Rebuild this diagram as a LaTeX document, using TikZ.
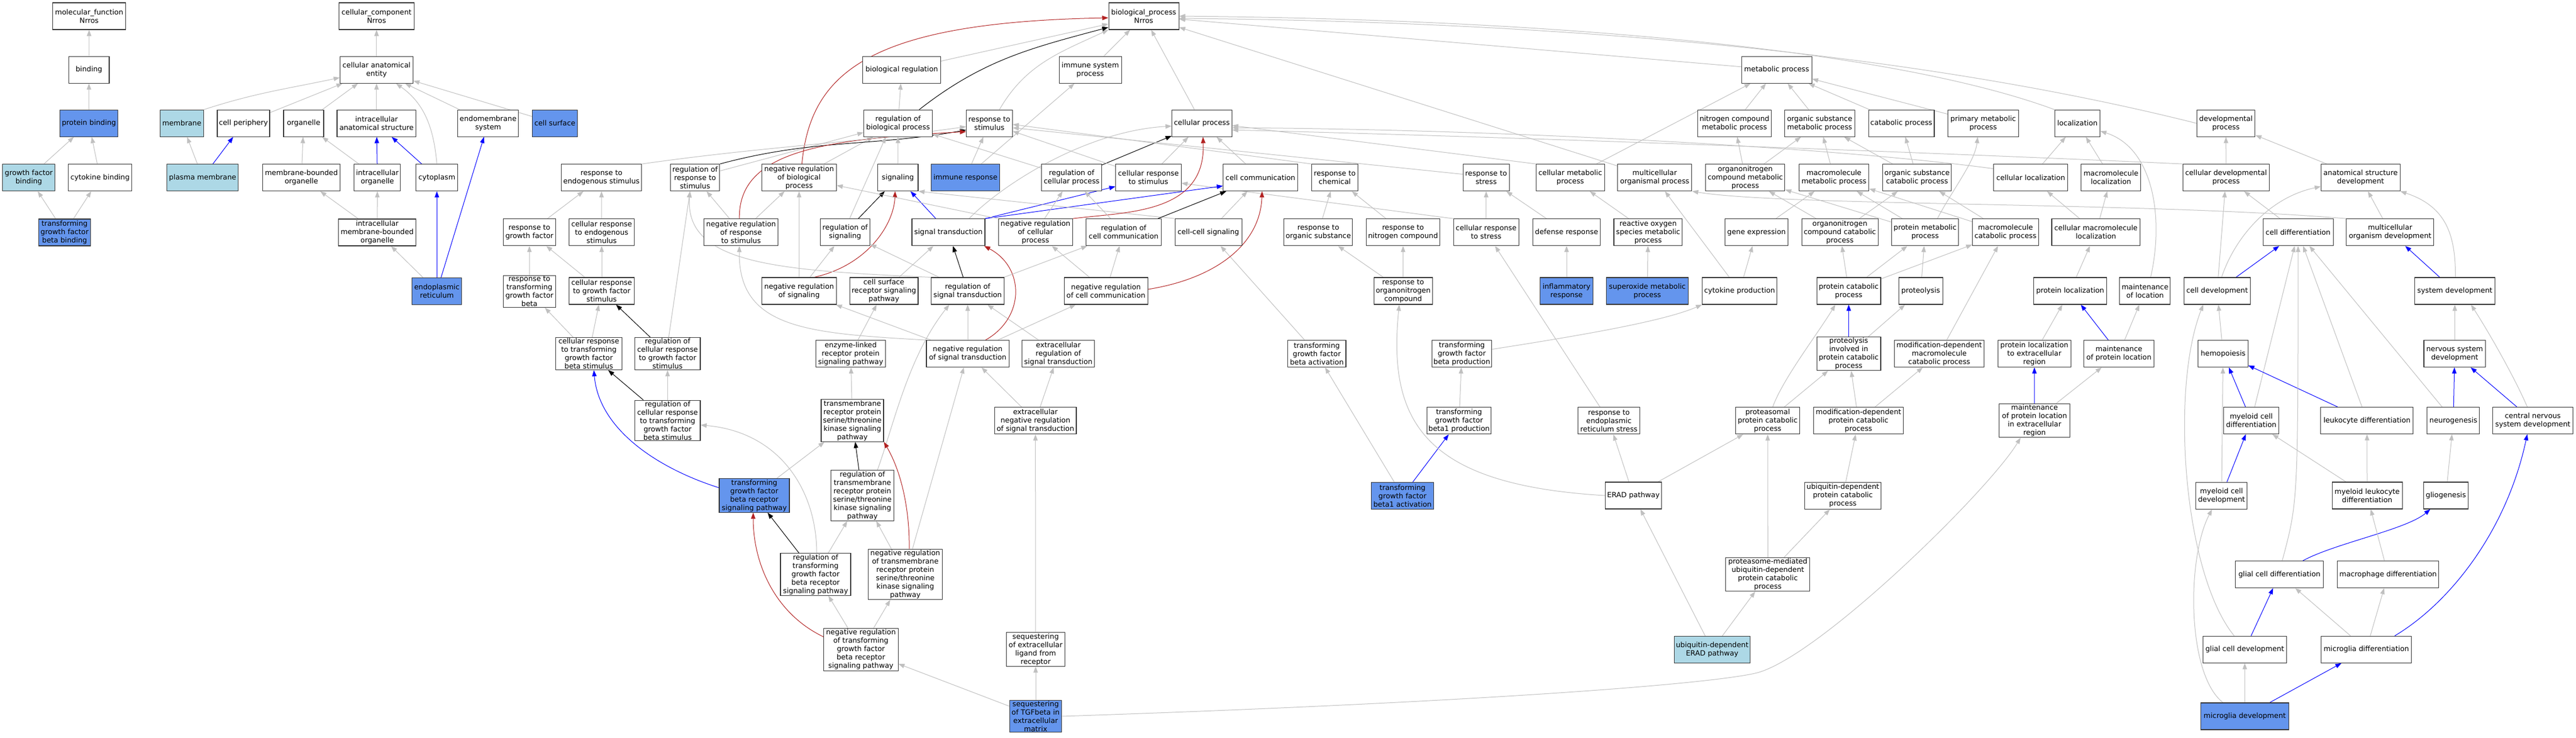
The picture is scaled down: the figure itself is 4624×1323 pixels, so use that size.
\documentclass[tikz,border=0pt]{standalone}
\usepackage{fontspec}
\setmainfont{DejaVu Sans}
\usetikzlibrary{arrows.meta,backgrounds}
\definecolor{egray}{RGB}{192,192,192}
\definecolor{nblue}{RGB}{100,149,237}
\definecolor{nlight}{RGB}{173,216,230}
\definecolor{eredc}{RGB}{178,34,34}
\definecolor{nborder}{RGB}{51,51,51}
\begin{document}
\begin{tikzpicture}[x=1pt,y=-1pt,
  box/.style={draw=nborder,line width=1.05pt,fill=white,align=center,inner xsep=2pt,inner ysep=1.5pt,minimum height=48pt,font=\fontsize{12.8}{15}\selectfont,text=black},
  bl/.style={box,fill=nblue},
  lb/.style={box,fill=nlight},
  eg/.style={draw=egray,line width=1pt,-{Triangle[length=11pt,width=8pt]}},
  ek/.style={eg,draw=black},
  ered/.style={eg,draw=eredc},
  eb/.style={eg,draw=blue}]
\useasboundingbox (0,0) rectangle (4624,1323);
% ---------------- nodes ----------------
% row 0
\node[box,minimum width=131pt] (mf) at (160,29) {molecular\_function\\Nrros};
\node[box,minimum width=134.8pt] (cc) at (675.9,29) {cellular\_component\\Nrros};
\node[box,minimum width=126pt] (bp) at (2053,29) {biological\_process\\Nrros};
% row 1
\node[box,minimum width=72.6pt] (bind) at (159.7,125.2) {binding};
\node[box,minimum width=131pt] (cae) at (675.9,125.2) {cellular anatomical\\entity};
\node[box,minimum width=139.3pt] (breg) at (1618.6,125.2) {biological regulation};
\node[box,minimum width=112pt] (isp) at (1957,125.2) {immune system\\process};
\node[box,minimum width=125.8pt] (mp) at (3189.2,125.2) {metabolic process};
% row 2
\node[bl,minimum width=104.5pt] (pb) at (159.7,221.2) {protein binding};
\node[lb,minimum width=77.6pt] (memb) at (326.4,221.2) {membrane};
\node[box,minimum width=94pt] (cper) at (437,221.2) {cell periphery};
\node[box,minimum width=72pt] (org) at (545,221.2) {organelle};
\node[box,minimum width=141.8pt] (ias) at (675.9,221.2) {intracellular\\anatomical structure};
\node[box,minimum width=109pt] (ems) at (876.2,221.2) {endomembrane\\system};
\node[bl,minimum width=81pt] (csurf) at (996,221.2) {cell surface};
\node[box,minimum width=123pt] (rbp) at (1612,221.2) {regulation of\\biological process};
\node[box,minimum width=82.6pt] (rs) at (1776,221.2) {response to\\stimulus};
\node[box,minimum width=107.5pt] (cp) at (2157.4,221.2) {cellular process};
\node[box,minimum width=131.2pt] (ncmp) at (3113.4,221.2) {nitrogen compound\\metabolic process};
\node[box,minimum width=125.9pt] (osmp) at (3266.3,221.2) {organic substance\\metabolic process};
\node[box,minimum width=117.9pt] (catp) at (3413,221.2) {catabolic process};
\node[box,minimum width=126.9pt] (pmp) at (3559.9,221.2) {primary metabolic\\process};
\node[box,minimum width=81.1pt] (loc) at (3729,221.2) {localization};
\node[box,minimum width=104.6pt] (devp) at (3995.6,221.2) {developmental\\process};
% row 3
\node[lb,minimum width=93.5pt] (gfb) at (51.7,318.6) {growth factor\\binding};
\node[box,minimum width=114.4pt] (cytb) at (179.6,318.6) {cytokine binding};
\node[lb,minimum width=128.4pt] (pm) at (363.7,318.6) {plasma membrane};
\node[box,minimum width=138.8pt] (mbo) at (541,318.6) {membrane-bounded\\organelle};
\node[box,minimum width=83pt] (io) at (677.4,318.6) {intracellular\\organelle};
\node[box,minimum width=75pt] (cyto) at (784.2,318.6) {cytoplasm};
\node[box,minimum width=144.7pt] (res) at (1079.6,318.6) {response to\\endogenous stimulus};
\node[box,minimum width=88.6pt] (rrs) at (1247.6,318.6) {regulation of\\response to\\stimulus};
\node[box,minimum width=133.8pt] (nrbp) at (1434.4,318.6) {negative regulation\\of biological\\process};
\node[box,minimum width=72.6pt] (sig) at (1611.7,318.6) {signaling};
\node[bl,minimum width=123.4pt] (ir) at (1733,318.6) {immune response};
\node[box,minimum width=107.5pt] (rcp) at (1923.6,318.6) {regulation of\\cellular process};
\node[box,minimum width=117.4pt] (crs) at (2061.4,318.6) {cellular response\\to stimulus};
\node[box,minimum width=133.7pt] (cc2) at (2262.5,318.6) {cell communication};
\node[box,minimum width=83pt] (rchem) at (2395.9,318.6) {response to\\chemical};
\node[box,minimum width=82.6pt] (rstress) at (2667.7,318.6) {response to\\stress};
\node[box,minimum width=122.8pt] (cmp) at (2818.7,318.6) {cellular metabolic\\process};
\node[box,minimum width=133.3pt] (mop) at (2970.2,318.6) {multicellular\\organismal process};
\node[box,minimum width=142.2pt] (oncmp) at (3132.8,318.6) {organonitrogen\\compound metabolic\\process};
\node[box,minimum width=125.3pt] (mmp) at (3292,318.6) {macromolecule\\metabolic process};
\node[box,minimum width=123.4pt] (oscp) at (3441.2,318.6) {organic substance\\catabolic process};
\node[box,minimum width=133.3pt] (cloc) at (3645.2,318.6) {cellular localization};
\node[box,minimum width=107pt] (mloc) at (3789.2,318.6) {macromolecule\\localization};
\node[box,minimum width=155.5pt] (cdp) at (3995.8,318.6) {cellular developmental\\process};
\node[box,minimum width=141.6pt] (asd) at (4237.2,318.6) {anatomical structure\\development};
% row 4
\node[bl,minimum width=93.5pt] (tgfbb) at (116,417) {transforming\\growth factor\\beta binding};
\node[box,minimum width=139.3pt] (imbo) at (677.1,417) {intracellular\\membrane-bounded\\organelle};
\node[box,minimum width=94pt] (rgf) at (950.3,416.7) {response to\\growth factor};
\node[box,minimum width=117.4pt] (cres) at (1080,416.7) {cellular response\\to endogenous\\stimulus};
\node[box,minimum width=133.3pt] (nrrs) at (1330.2,416.7) {negative regulation\\of response\\to stimulus};
\node[box,minimum width=89pt] (rsig) at (1517,416.7) {regulation of\\signaling};
\node[box,minimum width=131pt] (st) at (1702.5,416.7) {signal transduction};
\node[box,minimum width=133pt] (nrcp) at (1858.7,416.7) {negative regulation\\of cellular\\process};
\node[box,minimum width=135pt] (rcc) at (2017,416.7) {regulation of\\cell communication};
\node[box,minimum width=120pt] (ccs) at (2169,416.7) {cell-cell signaling};
\node[box,minimum width=123pt] (ros) at (2366.3,416.7) {response to\\organic substance};
\node[box,minimum width=131.3pt] (rnc) at (2518.5,416.7) {response to\\nitrogen compound};
\node[box,minimum width=117.4pt] (crstress) at (2667.7,416.7) {cellular response\\to stress};
\node[box,minimum width=120.4pt] (defr) at (2812,416.7) {defense response};
\node[box,minimum width=122.9pt] (rosmp) at (2958.4,416.7) {reactive oxygen\\species metabolic\\process};
\node[box,minimum width=113pt] (gexp) at (3152.9,416.7) {gene expression};
\node[box,minimum width=136.8pt] (onccp) at (3302.6,416.7) {organonitrogen\\compound catabolic\\process};
\node[box,minimum width=120.4pt] (prmp) at (3455.6,416.7) {protein metabolic\\process};
\node[box,minimum width=118.4pt] (mcp) at (3599.9,416.7) {macromolecule\\catabolic process};
\node[box,minimum width=158.7pt] (cmloc) at (3762.3,416.7) {cellular macromolecule\\localization};
\node[box,minimum width=125.9pt] (cdiff) at (4125.1,416.7) {cell differentiation};
\node[box,minimum width=157pt] (mod) at (4290.3,416.7) {multicellular\\organism development};
% row 5
\node[bl,minimum width=88.9pt] (er) at (784.2,522.4) {endoplasmic\\reticulum};
\node[box,minimum width=94pt] (rtgfb) at (950.3,522.9) {response to\\transforming\\growth factor\\beta};
\node[box,minimum width=117.4pt] (crgf) at (1080,522) {cellular response\\to growth factor\\stimulus};
\node[box,minimum width=133.8pt] (nrsig) at (1434.4,522) {negative regulation\\of signaling};
\node[box,minimum width=122.8pt] (csrsp) at (1586.6,522) {cell surface\\receptor signaling\\pathway};
\node[box,minimum width=131.4pt] (rst) at (1737,522) {regulation of\\signal transduction};
\node[box,minimum width=150.3pt] (nrcc) at (1985.2,522) {negative regulation\\of cell communication};
\node[box,minimum width=105pt] (rorgn) at (2518.7,522) {response to\\organonitrogen\\compound};
\node[bl,minimum width=94.5pt] (infl) at (2812,522) {inflammatory\\response};
\node[bl,minimum width=146.8pt] (supox) at (2957,522) {superoxide metabolic\\process};
\node[box,minimum width=133.7pt] (cytp) at (3122.6,522) {cytokine production};
\node[box,minimum width=114.9pt] (pcp) at (3318.5,522) {protein catabolic\\process};
\node[box,minimum width=78.6pt] (prot) at (3447.7,522) {proteolysis};
\node[box,minimum width=130.9pt] (ploc) at (3716,522) {protein localization};
\node[box,minimum width=91pt] (mloc2) at (3850.4,522) {maintenance\\of location};
\node[box,minimum width=118.4pt] (cdev) at (3979.8,522) {cell development};
\node[box,minimum width=143.6pt] (sysdev) at (4406.5,522) {system development};
% row 6
\node[box,minimum width=118.4pt] (crtgfb) at (1057,634.6) {cellular response\\to transforming\\growth factor\\beta stimulus};
\node[box,minimum width=117.4pt] (rcrgf) at (1198.3,634.6) {regulation of\\cellular response\\to growth factor\\stimulus};
\node[box,minimum width=125.8pt] (elrp) at (1527,634.6) {enzyme-linked\\receptor protein\\signaling pathway};
\node[box,minimum width=148pt] (nrst) at (1737,634.6) {negative regulation\\of signal transduction};
\node[box,minimum width=130.4pt] (erst) at (1899.7,634.6) {extracellular\\regulation of\\signal transduction};
\node[box,minimum width=104.5pt] (tgfba) at (2363.7,634.6) {transforming\\growth factor\\beta activation};
\node[box,minimum width=107.5pt] (tgfbp) at (2624,634.6) {transforming\\growth factor\\beta production};
\node[box,minimum width=114.9pt] (pipcp) at (3318.5,634.6) {proteolysis\\involved in\\protein catabolic\\process};
\node[box,minimum width=161.2pt] (mdmcp) at (3481,634.6) {modification-dependent\\macromolecule\\catabolic process};
\node[box,minimum width=131.3pt] (plocer) at (3651.7,634.6) {protein localization\\to extracellular\\region};
\node[box,minimum width=125.6pt] (mpl) at (3803.5,634.6) {maintenance\\of protein location};
\node[box,minimum width=89.3pt] (hemo) at (3990.5,634.6) {hemopoiesis};
\node[box,minimum width=110.5pt] (nsd) at (4406.2,634.6) {nervous system\\development};
% row 7
\node[box,minimum width=117.4pt] (rcrtgfb) at (1198.3,754.5) {regulation of\\cellular response\\to transforming\\growth factor\\beta stimulus};
\node[box,minimum width=112pt] (tmrp) at (1530,754.5) {transmembrane\\receptor protein\\serine/threonine\\kinase signaling\\pathway};
\node[box,minimum width=146.7pt] (enrst) at (1858.6,754.8) {extracellular\\negative regulation\\of signal transduction};
\node[box,minimum width=115.5pt] (tgfb1p) at (2619,754.8) {transforming\\growth factor\\beta1 production};
\node[box,minimum width=111pt] (rerst) at (2888,754.8) {response to\\endoplasmic\\reticulum stress};
\node[box,minimum width=115.4pt] (ppcp) at (3173,754.8) {proteasomal\\protein catabolic\\process};
\node[box,minimum width=160.7pt] (mdpcp) at (3336,754.8) {modification-dependent\\protein catabolic\\process};
\node[box,minimum width=126.4pt] (mpler) at (3652,754.5) {maintenance\\of protein location\\in extracellular\\region};
\node[box,minimum width=98.7pt] (mycd) at (4041,754.5) {myeloid cell\\differentiation};
\node[box,minimum width=165.8pt] (leud) at (4248.8,754.5) {leukocyte differentiation};
\node[box,minimum width=93.8pt] (neuro) at (4403.8,754.5) {neurogenesis};
\node[box,minimum width=144pt] (cnsd) at (4546.5,754.5) {central nervous\\system development};
% row 8
\node[bl,minimum width=126pt] (tgfbrsp) at (1354,889) {transforming\\growth factor\\beta receptor\\signaling pathway};
\node[box,minimum width=112.3pt] (rtmrp) at (1548,889) {regulation of\\transmembrane\\receptor protein\\serine/threonine\\kinase signaling\\pathway};
\node[bl,minimum width=112.5pt] (tgfb1a) at (2517.5,889.3) {transforming\\growth factor\\beta1 activation};
\node[box,minimum width=101.5pt] (erad) at (2932,889) {ERAD pathway};
\node[box,minimum width=136.8pt] (udpcp) at (3308,889.3) {ubiquitin-dependent\\protein catabolic\\process};
\node[box,minimum width=91.8pt] (mycdev) at (3987.7,889.2) {myeloid cell\\development};
\node[box,minimum width=126pt] (myld) at (4249,889) {myeloid leukocyte\\differentiation};
\node[box,minimum width=80pt] (glio) at (4390.4,889) {gliogenesis};
% row 9
\node[box,minimum width=126pt] (rtgfbrsp) at (1464,1030.5) {regulation of\\transforming\\growth factor\\beta receptor\\signaling pathway};
\node[box,minimum width=133.3pt] (nrtmrp) at (1625,1030.4) {negative regulation\\of transmembrane\\receptor protein\\serine/threonine\\kinase signaling\\pathway};
\node[box,minimum width=150.8pt] (pmud) at (3173.3,1030.5) {proteasome-mediated\\ubiquitin-dependent\\protein catabolic\\process};
\node[box,minimum width=157.4pt] (gcd) at (4091.6,1030.5) {glial cell differentiation};
\node[box,minimum width=182pt] (macd) at (4286.6,1030.5) {macrophage differentiation};
% row 10
\node[box,minimum width=133.6pt] (nrtgfbrsp) at (1545.3,1165.4) {negative regulation\\of transforming\\growth factor\\beta receptor\\signaling pathway};
\node[box,minimum width=104.4pt] (selr) at (1859,1165) {sequestering\\of extracellular\\ligand from\\receptor};
\node[lb,minimum width=136.7pt] (uderad) at (3073.4,1165.4) {ubiquitin-dependent\\ERAD pathway};
\node[box,minimum width=150.6pt] (gcdev) at (4029.4,1165.2) {glial cell development};
\node[box,minimum width=162.4pt] (mgd) at (4247.6,1165.2) {microglia differentiation};
% row 11
\node[bl,minimum width=93.6pt] (stgfb) at (1859,1285) {sequestering\\of TGFbeta in\\extracellular\\matrix};
\node[bl,minimum width=157.4pt] (mgdev) at (4029.4,1285) {microglia development};
% ---------------- edges ----------------
\begin{pgfonlayer}{background}
\fill[white] (0,0) rectangle (4624,1323);
% MF
\draw[eg] (bind) -- (mf);
\draw[eg] (pb) -- (bind);
\draw[eg] (gfb) -- (pb);
\draw[eg] (cytb) -- (pb);
\draw[eg] (tgfbb) -- (gfb);
\draw[eg] (tgfbb) -- (cytb);
% CC
\draw[eg] (cae) -- (cc);
\draw[eg] (memb.north east) to[out=18,in=192] (cae);
\draw[eg] (cper) -- (cae);
\draw[eg] (org) -- (cae);
\draw[eg] (ias) -- (cae);
\draw[eg] (cyto.north) to[out=95,in=-35] (cae);
\draw[eg] (ems) -- (cae);
\draw[eg] (csurf) -- (cae);
\draw[eg] (pm) -- (memb);
\draw[eb] (pm) -- (cper);
\draw[eg] (mbo) -- (org);
\draw[eg] (io) -- (org);
\draw[eb] (io) -- (ias);
\draw[eb] (cyto) -- (ias);
\draw[eg] (imbo) -- (mbo);
\draw[eg] (imbo) -- (io);
\draw[eg] (er) -- (imbo);
\draw[eb] (er) -- (cyto);
\draw[eb] (er) -- (ems);
% BP top
\draw[eg] (breg) -- (bp);
\draw[eg] (isp) -- (bp);
\draw[eg] (cp) -- (bp);
\draw[eg] ([xshift=18pt]rs.north) to[out=60,in=205] (bp.south west);
\draw[ek] ([xshift=38pt]rbp.north) to[out=38,in=195] ([yshift=-20pt]bp.west);
\draw[ered] ([xshift=5pt]nrbp.north) .. controls (1455,130) and (1560,40) .. ([yshift=-3pt]bp.west);
\draw[eg] (mp) -- (bp);
\draw[eg] (loc.north west) .. controls (3400,90) and (2800,35) .. (bp.east);
\draw[eg] (devp.west) .. controls (3500,110) and (2900,40) .. ([yshift=-4pt]bp.east);
\draw[eg] (mop) -- (bp);
\draw[eg] (rbp) -- (breg);
\draw[eg] (nrbp) -- (rbp);
\draw[eg] (rrs) -- (rbp);
\draw[ek] (rrs.north east) to[out=15,in=190] ([yshift=-12pt]rs.west);
\draw[ered] ([xshift=-3pt]nrrs.north) .. controls (1325,270) and (1480,250) .. ([yshift=-15pt]rs.west);
\draw[eg] (res.north east) to[out=8,in=188] ([yshift=-6pt]rs.west);
\draw[eg] (nrrs) -- (rrs);
\draw[eg] (nrrs) -- (nrbp);
\draw[eg] (ir) -- (rs);
\draw[eg] (ir) -- (isp);
\draw[eg] (sig) -- (rbp);
\draw[eg] (rcp) -- (rbp);
\draw[ek] (rcp) -- (cp);
\draw[eg] (crs) -- (cp);
\draw[eg] (crs) -- (rs);
\draw[eg] (cc2) -- (cp);
\draw[eg] (rchem.north west) -- ([yshift=-2pt]rs.east);
\draw[eg] ([yshift=6pt]rstress.west) -- ([yshift=-8pt]rs.east);
\draw[eg] (cmp.north west) -- ([yshift=-4pt]cp.east);
\draw[eg] (cmp) -- (mp);
\draw[eg] ([yshift=16pt]cloc.west) .. controls (3300,265) and (2700,232) .. ([yshift=-8pt]cp.east);
\draw[eg] (cdp.north west) .. controls (3500,275) and (2700,245) .. ([yshift=-12pt]cp.east);
\draw[eg] (mod.north west) .. controls (3850,362) and (3200,370) .. (mop.south east);
\draw[eg] (cytp) -- (mop);
\draw[eg] (cytp) -- (gexp);
\draw[eg] ([yshift=8pt]tgfbp.east) .. controls (2850,600) and (2990,575) .. (cytp.south west);
\draw[eg] (tgfb1p) -- (tgfbp);
\draw[eg] (tgfb1a) -- (tgfba);
\draw[eb] (tgfb1a) -- (tgfb1p);
\draw[eg] (tgfba) -- (ccs);
\draw[eg] (ros) -- (rchem);
\draw[eg] (rnc) -- (rchem);
\draw[eg] (rorgn) -- (ros);
\draw[eg] (rorgn) -- (rnc);
\draw[eg] (crstress) -- (rstress);
\draw[eg] (defr) -- (rstress);
\draw[eg] (infl) -- (defr);
\draw[eg] (supox) -- (rosmp);
\draw[eg] (rosmp) -- (cmp);
\draw[eg] (crstress.north west) -- ([yshift=-10pt]crs.east);
\draw[eg] (rerst) -- (crstress);
\draw[eg] (erad) -- (rerst);
\draw[eg] (erad) -- (ppcp);
\draw[eg] (erad.west) .. controls (2560,870) and (2490,760) .. ([xshift=-7pt]rorgn.south);
% proteins
\draw[eb] (pipcp) -- (pcp);
\draw[eg] (pipcp) -- (prot);
\draw[eg] ([xshift=9pt]ppcp.north) .. controls (3200,680) and (3262,600) .. ([xshift=-24pt]pcp.south);
\draw[eg] (ppcp) -- (pipcp);
\draw[eg] (mdpcp) -- (pipcp);
\draw[eg] (mdpcp) -- (mdmcp);
\draw[eg] (udpcp) -- (mdpcp);
\draw[eg] (pmud) -- (ppcp);
\draw[eg] (pmud) -- (udpcp);
\draw[eg] (uderad) -- (pmud);
\draw[eg] (uderad) -- (erad);
\draw[eb] (mpler) -- (plocer);
\draw[eg] (mpler) -- (mpl);
\draw[eg] (stgfb.east) .. controls (2600,1262) and (3050,1230) .. (3150,1208) .. controls (3260,1184) and (3570,880) .. ([xshift=-25pt]mpler.south);
% signalling
\draw[eg] (stgfb) -- (selr);
\draw[eg] (stgfb) -- (nrtgfbrsp);
\draw[eg] (selr) -- (enrst);
\draw[eg] (enrst) -- (nrst);
\draw[eg] (enrst) -- (erst);
\draw[eg] (erst) -- (rst);
\draw[eg] (nrst) -- (rst);
\draw[ered] ([xshift=32pt]nrst.north) .. controls (1840,570) and (1840,480) .. ([xshift=64pt]st.south);
\draw[eg] (nrst) -- (nrcc);
\draw[eg] (nrst.north west) .. controls (1450,598) and (1325,590) .. ([xshift=-3pt]nrrs.south);
\draw[eg] (nrst) -- (nrsig);
\draw[ered] ([xshift=27pt]nrsig.north) .. controls (1560,475) and (1605,400) .. ([xshift=-5pt]sig.south);
\draw[eg] (nrsig) -- (rsig);
\draw[eg] (nrsig) -- (nrbp);
\draw[ek] (rsig) -- (sig);
\draw[eg] ([xshift=8pt]rsig.north) -- ([xshift=-22pt]rbp.south);
\draw[eb] (st) -- (sig);
\draw[eb] (st.north east) -- ([yshift=-16pt]crs.west);
\draw[eb] (st.north east) -- ([yshift=-15pt]cc2.west);
\draw[eg] ([xshift=37pt]st.north) .. controls (1800,330) and (1950,235) .. ([yshift=-5pt]cp.west);
\draw[eg] (csrsp) -- (st);
\draw[ek] (rst) -- (st);
\draw[eg] (rst) -- (rsig);
\draw[eg] (rst) -- (rcc);
\draw[eg] (rst.north west) .. controls (1400,485) and (1228,475) .. ([xshift=-9pt]rrs.south);
\draw[eg] ([xshift=2pt]rcrgf.north) -- ([xshift=-9pt]rrs.south);
\draw[ek] (rcrgf) -- (crgf);
\draw[eg] (crtgfb) -- (rtgfb);
\draw[eg] (crtgfb) -- (crgf);
\draw[eg] (crgf) -- (cres);
\draw[eg] (crgf) -- (rgf);
\draw[eg] (rtgfb) -- (rgf);
\draw[eg] (rgf) -- (res);
\draw[eg] (cres) -- (res);
\draw[eg] (rcrtgfb) -- (rcrgf);
\draw[ek] (rcrtgfb) -- (crtgfb);
\draw[eb] ([yshift=14pt]tgfbrsp.west) .. controls (1180,840) and (1075,770) .. ([xshift=9pt]crtgfb.south);
\draw[eg] (tgfbrsp) -- (tmrp);
\draw[ek] (rtgfbrsp) -- (tgfbrsp);
\draw[eg] (rtgfbrsp) -- (rtmrp);
\draw[eg] ([xshift=2pt]rtgfbrsp.north) .. controls (1466,880) and (1400,775) .. ([yshift=-8pt]rcrtgfb.east);
\draw[ek] (rtmrp) -- (tmrp);
\draw[eg] ([xshift=27pt]rtmrp.north) .. controls (1605,760) and (1630,640) .. ([xshift=-33pt]rst.south);
\draw[eg] (tmrp) -- (elrp);
\draw[eg] (elrp) -- (csrsp);
\draw[ered] ([xshift=7pt]nrtmrp.north) .. controls (1633,920) and (1620,850) .. (tmrp.south east);
\draw[eg] (nrtmrp) -- (rtmrp);
\draw[eg] (nrtmrp) -- (nrst);
\draw[ered] ([yshift=23pt]nrtgfbrsp.west) .. controls (1390,1100) and (1352,1010) .. ([xshift=-2pt]tgfbrsp.south);
\draw[eg] (nrtgfbrsp) -- (rtgfbrsp);
\draw[eg] (nrtgfbrsp) -- (nrtmrp);
\draw[eg] (ccs) -- (cc2);
\draw[eg] (ccs.north west) -- (sig.south east);
\draw[eg] (nrcp) -- (rcp);
\draw[eg] (nrcp.north west) -- ([yshift=-14pt]nrbp.east);
\draw[ered] (nrcp.north east) .. controls (2020,380) and (2165,385) .. ([xshift=2pt]cp.south);
\draw[eg] (rcc) -- (rcp);
\draw[ek] (rcc) -- (cc2);
\draw[eg] (nrcc) -- (rcc);
\draw[eg] (nrcc) -- (nrcp);
\draw[ered] ([yshift=3pt]nrcc.east) .. controls (2180,500) and (2262,440) .. ([xshift=3pt]cc2.south);
% metabolism
\draw[eg] (ncmp) -- (mp);
\draw[eg] (osmp) -- (mp);
\draw[eg] (catp) -- (mp);
\draw[eg] (pmp) -- (mp);
\draw[eg] (cloc) -- (loc);
\draw[eg] (mloc) -- (loc);
\draw[eg] ([xshift=10pt]mloc2.north) .. controls (3885,390) and (3865,265) .. ([yshift=-14pt]loc.east);
\draw[eg] (oncmp) -- (ncmp);
\draw[eg] (oncmp) -- (osmp);
\draw[eg] (mmp) -- (osmp);
\draw[eg] (oscp) -- (osmp);
\draw[eg] (oscp) -- (catp);
\draw[eg] (gexp) -- (mmp);
\draw[eg] (onccp) -- (oncmp);
\draw[eg] (onccp) -- (oscp);
\draw[eg] (prmp) -- (oncmp);
\draw[eg] (prmp) -- (mmp);
\draw[eg] ([xshift=22pt]prmp.north) .. controls (3505,340) and (3545,290) .. ([xshift=-10pt]pmp.south);
\draw[eg] (mcp) -- (mmp);
\draw[eg] (mcp) -- (oscp);
\draw[eg] (cmloc) -- (cloc);
\draw[eg] (cmloc) -- (mloc);
\draw[eg] (pcp) -- (onccp);
\draw[eg] (pcp) -- (prmp);
\draw[eg] (pcp) -- (mcp);
\draw[eg] (prot) -- (prmp);
\draw[eg] (ploc) -- (cmloc);
\draw[eg] (mdmcp) -- (mcp);
\draw[eg] (plocer) -- (ploc);
\draw[eb] (mpl) -- (ploc);
\draw[eg] (mpl) -- (mloc2);
% development
\draw[eg] (cdp) -- (devp);
\draw[eg] (asd) -- (devp);
\draw[eg] (cdiff) -- (cdp);
\draw[eg] (mod) -- (asd);
\draw[eg] (cdev) -- (cdp);
\draw[eg] ([xshift=8pt]cdev.north) .. controls (4010,430) and (4070,355) .. ([yshift=-16pt]asd.west);
\draw[eb] (cdev) -- (cdiff);
\draw[eb] (sysdev) -- (mod);
\draw[eg] ([xshift=1pt]sysdev.north) .. controls (4408,420) and (4390,370) .. (asd.south east);
\draw[eg] (nsd) -- (sysdev);
\draw[eg] ([xshift=-10pt]cnsd.north) .. controls (4515,680) and (4470,600) .. ([xshift=29pt]sysdev.south);
\draw[eb] (cnsd) -- (nsd);
\draw[eb] (neuro) -- (nsd);
\draw[eg] (neuro) -- (cdiff);
\draw[eg] (mycd) -- (cdiff);
\draw[eb] (mycd) -- (hemo);
\draw[eg] (leud) -- (cdiff);
\draw[eb] (leud) -- (hemo);
\draw[eg] ([xshift=5pt]gcd.north) .. controls (4125,900) .. (cdiff.south);
\draw[eb] (mycdev) -- (mycd);
\draw[eg] (mycdev) -- (hemo);
\draw[eg] (hemo) -- (cdev);
\draw[eg] (myld) -- (mycd);
\draw[eg] (myld) -- (leud);
\draw[eg] (glio) -- (neuro);
\draw[eb] ([xshift=42pt]gcd.north) .. controls (4190,975) and (4320,950) .. ([xshift=-28pt]glio.south);
\draw[eg] (macd) -- (myld);
\draw[eb] (gcdev) -- (gcd);
\draw[eg] ([xshift=-19pt]gcdev.north) .. controls (3920,1030) and (3895,700) .. ([xshift=-25pt]cdev.south);
\draw[eg] (mgd) -- (gcd);
\draw[eg] (mgd) -- (macd);
\draw[eb] ([xshift=51pt]mgd.north) .. controls (4400,1080) and (4500,950) .. ([xshift=-10pt]cnsd.south);
\draw[eg] (mgdev) -- (gcdev);
\draw[eb] (mgdev) -- (mgd);
\draw[eg] ([xshift=-39pt]mgdev.north) .. controls (3925,1210) and (3925,1000) .. ([xshift=-17pt]mycdev.south);
\end{pgfonlayer}
\end{tikzpicture}
\end{document}
